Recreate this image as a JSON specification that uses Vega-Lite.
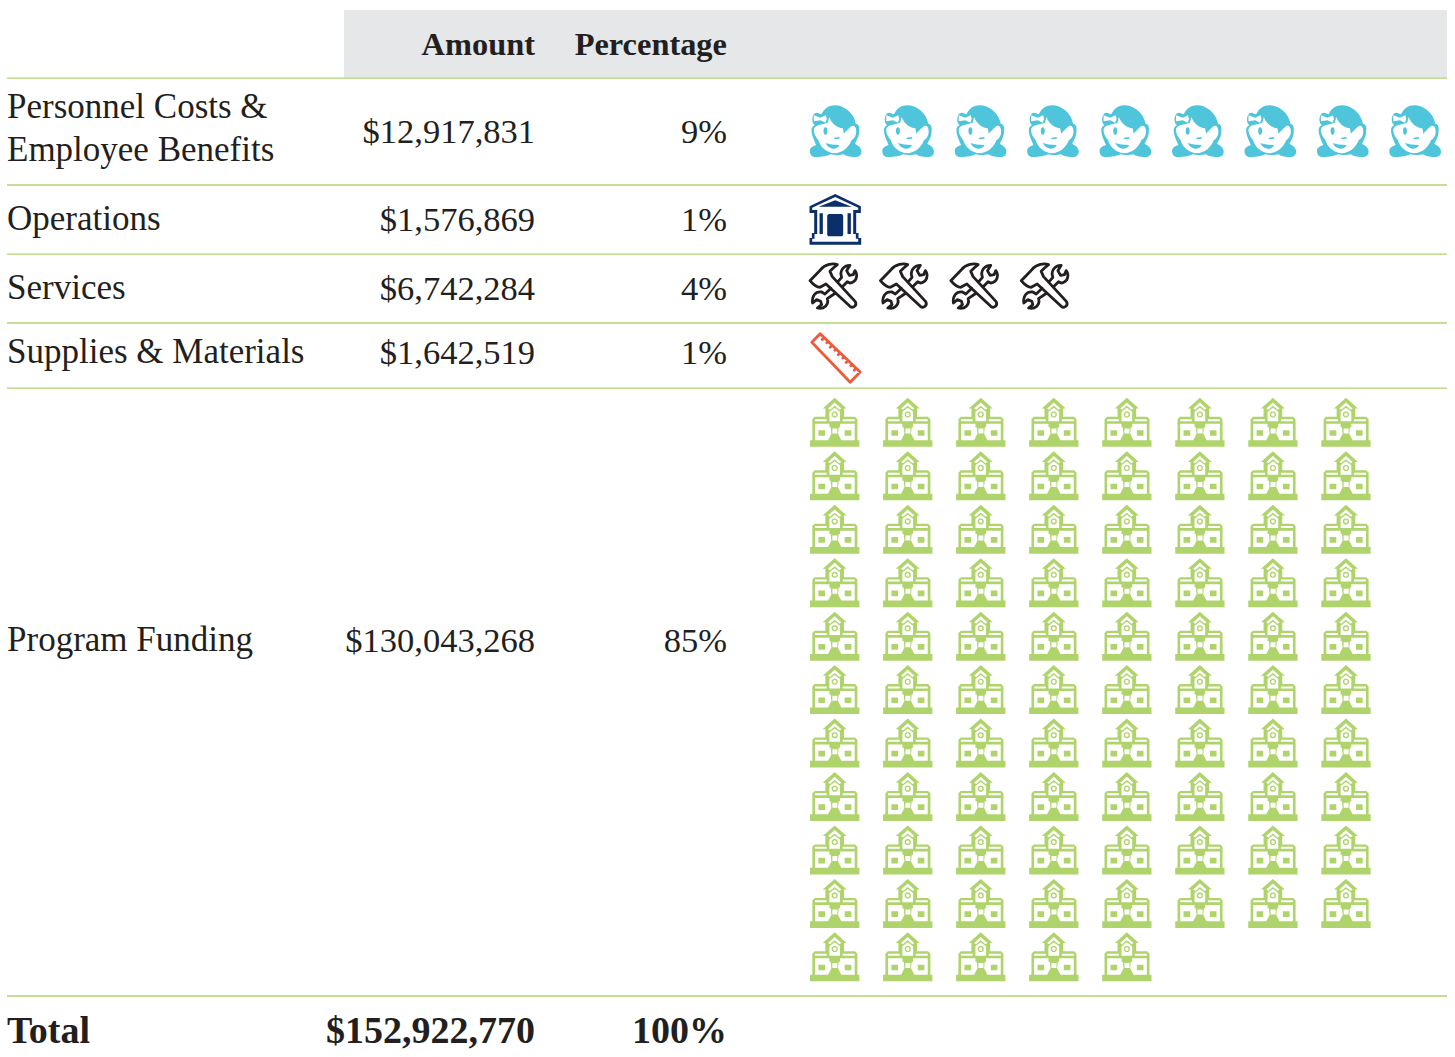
{"$schema":"https://vega.github.io/schema/vega-lite/v6.json","width":1455,"height":1057,"padding":0,"autosize":{"type":"fit","contains":"padding"},"background":"white","config":{"view":{"stroke":null}},
"datasets":{
"band":[{"col":-6.718,"col2":8.383,"row":-7.718,"row2":-6.445}],
"lines":[{"col":-11.332,"col2":8.383,"row":-6.445},{"col":-11.332,"col2":8.383,"row":-4.444},{"col":-11.332,"col2":8.383,"row":-3.152},{"col":-11.332,"col2":8.383,"row":-1.862},{"col":-11.332,"col2":8.383,"row":-0.645},{"col":-11.332,"col2":8.383,"row":10.73}],
"labels":[{"text":"Personnel Costs &","col":-11.332,"row":-5.697},{"text":"Employee Benefits","col":-11.332,"row":-4.892},{"text":"Operations","col":-11.332,"row":-3.602},{"text":"Services","col":-11.332,"row":-2.311},{"text":"Supplies & Materials","col":-11.332,"row":-1.113},{"text":"Program Funding","col":-11.332,"row":4.275}],
"numbers":[{"text":"$12,917,831","col":-4.103,"row":-5.229},{"text":"9%","col":-1.475,"row":-5.229},{"text":"$1,576,869","col":-4.103,"row":-3.583},{"text":"1%","col":-1.475,"row":-3.583},{"text":"$6,742,284","col":-4.103,"row":-2.292},{"text":"4%","col":-1.475,"row":-2.292},{"text":"$1,642,519","col":-4.103,"row":-1.094},{"text":"1%","col":-1.475,"row":-1.094},{"text":"$130,043,268","col":-4.103,"row":4.294},{"text":"85%","col":-1.475,"row":4.294}],
"headers":[{"text":"Amount","col":-4.103,"row":-6.875},{"text":"Percentage","col":-1.475,"row":-6.875}],
"totalLabel":[{"text":"Total","col":-11.332,"row":11.61}],
"totals":[{"text":"$152,922,770","col":-4.103,"row":11.61},{"text":"100%","col":-1.475,"row":11.61}],
"icons":[
{"category":"Personnel","col":0.011,"row":-5.454},{"category":"Personnel","col":1.003,"row":-5.454},{"category":"Personnel","col":1.995,"row":-5.454},{"category":"Personnel","col":2.986,"row":-5.454},{"category":"Personnel","col":3.978,"row":-5.454},{"category":"Personnel","col":4.97,"row":-5.454},{"category":"Personnel","col":5.962,"row":-5.454},{"category":"Personnel","col":6.954,"row":-5.454},{"category":"Personnel","col":7.945,"row":-5.454},
{"category":"Operations","col":0.007,"row":-3.802},
{"category":"Services","col":-0.019,"row":-2.548},{"category":"Services","col":0.945,"row":-2.548},{"category":"Services","col":1.909,"row":-2.548},{"category":"Services","col":2.873,"row":-2.548},
{"category":"Supplies","col":0.011,"row":-1.207},
{"category":"Program","col":0,"row":0},{"category":"Program","col":1,"row":0},{"category":"Program","col":2,"row":0},{"category":"Program","col":3,"row":0},{"category":"Program","col":4,"row":0},{"category":"Program","col":5,"row":0},{"category":"Program","col":6,"row":0},{"category":"Program","col":7,"row":0},
{"category":"Program","col":0,"row":1},{"category":"Program","col":1,"row":1},{"category":"Program","col":2,"row":1},{"category":"Program","col":3,"row":1},{"category":"Program","col":4,"row":1},{"category":"Program","col":5,"row":1},{"category":"Program","col":6,"row":1},{"category":"Program","col":7,"row":1},
{"category":"Program","col":0,"row":2},{"category":"Program","col":1,"row":2},{"category":"Program","col":2,"row":2},{"category":"Program","col":3,"row":2},{"category":"Program","col":4,"row":2},{"category":"Program","col":5,"row":2},{"category":"Program","col":6,"row":2},{"category":"Program","col":7,"row":2},
{"category":"Program","col":0,"row":3},{"category":"Program","col":1,"row":3},{"category":"Program","col":2,"row":3},{"category":"Program","col":3,"row":3},{"category":"Program","col":4,"row":3},{"category":"Program","col":5,"row":3},{"category":"Program","col":6,"row":3},{"category":"Program","col":7,"row":3},
{"category":"Program","col":0,"row":4},{"category":"Program","col":1,"row":4},{"category":"Program","col":2,"row":4},{"category":"Program","col":3,"row":4},{"category":"Program","col":4,"row":4},{"category":"Program","col":5,"row":4},{"category":"Program","col":6,"row":4},{"category":"Program","col":7,"row":4},
{"category":"Program","col":0,"row":5},{"category":"Program","col":1,"row":5},{"category":"Program","col":2,"row":5},{"category":"Program","col":3,"row":5},{"category":"Program","col":4,"row":5},{"category":"Program","col":5,"row":5},{"category":"Program","col":6,"row":5},{"category":"Program","col":7,"row":5},
{"category":"Program","col":0,"row":6},{"category":"Program","col":1,"row":6},{"category":"Program","col":2,"row":6},{"category":"Program","col":3,"row":6},{"category":"Program","col":4,"row":6},{"category":"Program","col":5,"row":6},{"category":"Program","col":6,"row":6},{"category":"Program","col":7,"row":6},
{"category":"Program","col":0,"row":7},{"category":"Program","col":1,"row":7},{"category":"Program","col":2,"row":7},{"category":"Program","col":3,"row":7},{"category":"Program","col":4,"row":7},{"category":"Program","col":5,"row":7},{"category":"Program","col":6,"row":7},{"category":"Program","col":7,"row":7},
{"category":"Program","col":0,"row":8},{"category":"Program","col":1,"row":8},{"category":"Program","col":2,"row":8},{"category":"Program","col":3,"row":8},{"category":"Program","col":4,"row":8},{"category":"Program","col":5,"row":8},{"category":"Program","col":6,"row":8},{"category":"Program","col":7,"row":8},
{"category":"Program","col":0,"row":9},{"category":"Program","col":1,"row":9},{"category":"Program","col":2,"row":9},{"category":"Program","col":3,"row":9},{"category":"Program","col":4,"row":9},{"category":"Program","col":5,"row":9},{"category":"Program","col":6,"row":9},{"category":"Program","col":7,"row":9},
{"category":"Program","col":0,"row":10},{"category":"Program","col":1,"row":10},{"category":"Program","col":2,"row":10},{"category":"Program","col":3,"row":10},{"category":"Program","col":4,"row":10}
]},
"encoding":{
"x":{"field":"col","type":"quantitative","axis":null,"scale":{"domain":[-11.428,8.493],"nice":false,"zero":false}},
"y":{"field":"row","type":"quantitative","axis":null,"scale":{"domain":[11.871,-7.905],"nice":false,"zero":false}}
},
"layer":[
{"data":{"name":"band"},"mark":{"type":"rect","color":"#e6e7e9"},"encoding":{"x2":{"field":"col2"},"y2":{"field":"row2"}}},
{"data":{"name":"lines"},"mark":{"type":"rule","color":"#b0d56f","strokeWidth":1.3},"encoding":{"x2":{"field":"col2"}}},
{"data":{"name":"labels"},"mark":{"type":"text","align":"left","baseline":"alphabetic","font":"Liberation Serif","fontSize":35,"color":"#231f20"},"encoding":{"text":{"field":"text"}}},
{"data":{"name":"numbers"},"mark":{"type":"text","align":"right","baseline":"alphabetic","font":"Liberation Serif","fontSize":34.5,"color":"#231f20"},"encoding":{"text":{"field":"text"}}},
{"data":{"name":"headers"},"mark":{"type":"text","align":"right","baseline":"alphabetic","font":"Liberation Serif","fontWeight":"bold","fontSize":32.4,"color":"#231f20"},"encoding":{"text":{"field":"text"}}},
{"data":{"name":"totalLabel"},"mark":{"type":"text","align":"left","baseline":"alphabetic","font":"Liberation Serif","fontWeight":"bold","fontSize":38,"color":"#231f20"},"encoding":{"text":{"field":"text"}}},
{"data":{"name":"totals"},"mark":{"type":"text","align":"right","baseline":"alphabetic","font":"Liberation Serif","fontWeight":"bold","fontSize":38,"color":"#231f20"},"encoding":{"text":{"field":"text"}}},
{"data":{"name":"icons"},
"encoding":{
"shape":{"field":"category","type":"nominal","legend":null,"scale":{"domain":["Personnel","Operations","Program","Services","Supplies"],"range":[
"M-2 -77C25 -77 55 -55 61 -22C70 -20 72 -12 71 -2C72 12 66 25 58 38C68 43 78 50 78 62C78 72 70 78 60 78C50 78 35 78 25 70C15 73 -5 73 -15 70C-30 78 -50 78 -60 78C-72 78 -77 70 -77 60C-77 50 -68 45 -58 42C-66 25 -72 10 -72 -2C-72 -10 -68 -15 -62 -18C-72 -22 -72 -45 -62 -53C-55 -58 -48 -52 -42 -50C-33 -68 -20 -77 -2 -77ZM-52 -17C-62 -14 -66 -8 -65 -1C-64 10 -58 20 -52 26C-45 50 -25 65 -2 67C20 66 40 50 48 28C58 22 63 10 62 0C62 -10 58 -16 52 -16C48 -16 40 -8 25 8C24 0 23 -4 22 -8C5 -10 -12 -22 -19 -42C-21 -35 -22 -28 -24 -24ZM-65 -47L-65 -29L-45 -32L-30 -25L-26 -37L-29 -47L-45 -40ZM-30 -11C-26 -11 -24 -6 -24 0C-24 6 -26 11 -30 11C-34 11 -36 6 -36 0C-36 -6 -34 -11 -30 -11ZM-4 20L12 18L12 23L-4 25ZM-30 36C-20 40 -5 42 12 42C8 52 -5 56 -12 52C-20 50 -26 44 -30 36Z",
"M0 -76L77 -39L77 -19L63 -19L63 41L70 41L70 56L78 56L78 76L-77 76L-77 56L-70 56L-70 41L-63 41L-63 -19L-77 -19L-77 -39ZM0 -67L-69 -35L-69 -28L-54 -28L-54 44L-62 44L-62 58L-69 58L-69 67L69 67L69 58L62 58L62 44L54 44L54 -28L69 -28L69 -35ZM0 -57L50 -38L-50 -38ZM-47 -18L-37 -18L-37 44L-47 44ZM37 -18L47 -18L47 44L37 44ZM-18 -16L18 -16C22 -16 24 -13 24 -9L24 44C24 49 22 51 18 51L-18 51C-22 51 -24 49 -24 44L-24 -9C-24 -13 -22 -16 -18 -16Z",
"M0 -74L36 -42L28 -42L28 -17L61 -17L68 -10L68 53L74 53L74 73L-74 73L-74 53L-67 53L-67 -10L-60 -17L-28 -17L-28 -42L-36 -42ZM0 -60L-20 -42L-14 -38L0 -50L14 -38L20 -42ZM0 -44L-16 -32L-16 -4L16 -4L16 -32ZM-4 -33L4 -33L9 -28L9 -20L4 -15L-4 -15L-9 -20L-9 -28ZM-2 -29L-5 -26L-5 -22L-2 -19L2 -19L5 -22L5 -26L2 -29ZM-59 -10L-59 -4L-24 -4L-24 -10ZM24 -10L24 -4L60 -4L60 -10ZM-59 4L-59 53L-20 53L-10 34L-12 14L-16 14L-16 4ZM-49 23L-29 23L-29 40L-49 40ZM60 4L16 4L16 14L12 14L10 34L20 53L60 53ZM30 23L50 23L50 40L30 40ZM-7 18L-7 33L8 33L8 18Z",
"M-70 -17L-38 -50C-25 -67 0 -70 12 -65L0 -55L-10 -45L-3 -29L66 46C72 56 60 68 50 60L-22 -7L-40 3C-50 3 -60 -5 -70 -17ZM14 -14L25 -27C18 -45 30 -63 50 -63L40 -47L48 -33L60 -35L65 -47C75 -33 70 -13 50 -10L42 -14L27 1M-7 6L-25 23L-35 17C-55 15 -65 30 -62 50L-50 40L-38 45L-35 55L-48 65C-28 70 -12 55 -18 37L7 20",
"M-46 -73L74 42L44 73L-71 -47ZM-34 -61.5L-40 -55.5M-22 -50L-26 -46M-10 -38.5L-16 -32.5M2 -27L-2 -23M14 -15.5L8 -9.5M26 -4L22 0M38 7.5L32 13.5M50 19L46 23M62 30.5L56 36.5"
]}},
"color":{"field":"category","type":"nominal","legend":null,"scale":{"domain":["Personnel","Operations","Program","Services","Supplies"],"range":["#4fc5dc","#0b2f6b","#b0d46c","#231f20","#f05a3c"]}}
},
"layer":[
{"transform":[{"filter":{"field":"category","oneOf":["Personnel","Operations","Program"]}}],"mark":{"type":"point","filled":true,"opacity":1,"size":0.4444,"strokeWidth":0}},
{"transform":[{"filter":{"field":"category","oneOf":["Services","Supplies"]}}],"mark":{"type":"point","filled":false,"opacity":1,"size":0.4444,"strokeWidth":2.8,"strokeJoin":"round","strokeCap":"round"}}
]}
]}
